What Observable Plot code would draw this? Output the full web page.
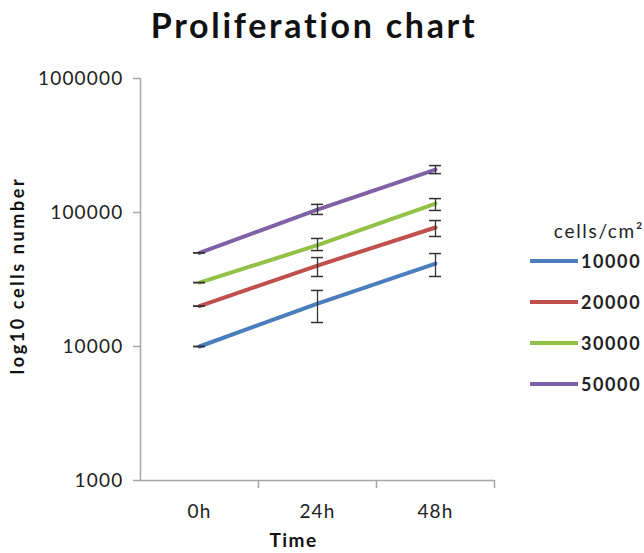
<!DOCTYPE html>
<html>
<head>
<meta charset="utf-8">
<script src="https://cdn.jsdelivr.net/npm/d3@7"></script>
<script src="https://cdn.jsdelivr.net/npm/@observablehq/plot@0.6"></script>
<style>
  html, body { margin: 0; padding: 0; background: #fff; }
  #wrap { position: relative; width: 644px; height: 553px; overflow: hidden; font-family: Lato, "Open Sans", sans-serif; }
  #title { position: absolute; left: 0; top: 4px; width: 628px; text-align: center; font-size: 34px; font-weight: 700; color: #111; letter-spacing: 2.7px; }
  #chart { position: absolute; left: 0; top: 50px; }
  #legend { position: absolute; left: 520px; top: 215px; }
  #chart svg text { letter-spacing: 1.2px; }
</style>
</head>
<body>
<div id="wrap">
  <div id="title">Proliferation chart</div>
  <div id="chart"></div>
  <div id="legend"></div>
</div>
<script>
const times = ["0h", "24h", "48h"];
const series = ["10000", "20000", "30000", "50000"];
const colors = ["#4a7ebd", "#c0504d", "#93c047", "#7f62a6"];
const values = {
  "10000": [10000, 20900, 41600],
  "20000": [20000, 40200, 77300],
  "30000": [30000, 57000, 116600],
  "50000": [50000, 105000, 209000]
};
const errLow = {
  "10000": [10000, 15100, 33300],
  "20000": [20000, 33300, 66200],
  "30000": [30000, 52000, 103600],
  "50000": [50000, 96700, 195000]
};
const errHigh = {
  "10000": [10000, 26200, 49400],
  "20000": [20000, 46100, 87100],
  "30000": [30000, 64000, 127000],
  "50000": [50000, 115000, 224000]
};
const yTicks = [1000, 10000, 100000, 1000000];

const rows = [];
series.forEach(s => times.forEach((t, i) => rows.push({
  series: s, time: t, value: values[s][i], lo: errLow[s][i], hi: errHigh[s][i]
})));

const grey = "#a6a6a6";
const plot = Plot.plot({
  width: 644,
  height: 503,
  marginTop: 28,
  marginBottom: 73,
  marginLeft: 140,
  marginRight: 150,
  style: { fontFamily: "Lato, 'Open Sans', sans-serif", fontSize: "19px", color: "#222", background: "#fff" },
  x: { type: "band", domain: times, label: null, padding: 0 },
  y: { type: "log", domain: [1000, 1000000], ticks: yTicks, tickFormat: d => String(d), label: null },
  color: { domain: series, range: colors },
  marks: [
    Plot.gridY(yTicks, { stroke: grey, strokeOpacity: 1, strokeWidth: 1.5, x1: 133, x2: 494 }),
    Plot.ruleX([times[0]], { stroke: grey, strokeWidth: 1.5, dx: -59, y1: 1000, y2: 1000000 }),
    Plot.ruleY([1000], { stroke: grey, strokeWidth: 1.5 }),
    Plot.axisY({ ticks: yTicks, tickFormat: d => String(d), tickSize: 7, tickPadding: 10, stroke: grey, strokeWidth: 1.5, fontSize: 19, fill: "#222", label: null }),
    Plot.axisX({ tickSize: 0, tickPadding: 24, fontSize: 19, fill: "#222", label: null }),
    Plot.ruleX(times, { dx: 59, y1: 1000, y2: 870, stroke: grey, strokeWidth: 1.5 }),
    Plot.line(rows, { x: "time", y: "value", z: "series", stroke: "series", strokeWidth: 4 }),
    Plot.ruleX(rows, { x: "time", y1: "lo", y2: "hi", stroke: "#333", strokeWidth: 1.3 }),
    Plot.tickY(rows, { x: "time", y: "lo", stroke: "#333", strokeWidth: 1.5, inset: 53 }),
    Plot.tickY(rows, { x: "time", y: "hi", stroke: "#333", strokeWidth: 1.5, inset: 53 }),
    Plot.text(["log10 cells number"], { frameAnchor: "left", textAnchor: "middle", dx: -122, dy: -4, rotate: -90, fontWeight: 700, fontSize: 18, fill: "#111" }),
    Plot.text(["Time"], { frameAnchor: "bottom", dx: -24, dy: 66, fontWeight: 700, fontSize: 19, fill: "#111" })
  ]
});
document.getElementById("chart").appendChild(plot);
d3.select(plot).selectAll("text").filter(function () { return this.textContent === "log10 cells number"; })
  .style("letter-spacing", "2.6px");
d3.select(plot).selectAll("text").filter(function () { return this.textContent === "Time"; })
  .style("letter-spacing", "1.5px");

// legend
const lg = d3.select("#legend").append("svg").attr("width", 124).attr("height", 180)
  .style("font-family", "Lato, 'Open Sans', sans-serif");
lg.append("text").attr("x", 124).attr("y", 23).attr("text-anchor", "end")
  .attr("font-size", 19).attr("fill", "#222").style("letter-spacing", "1.7px").text("cells/cm²");
series.forEach((s, i) => {
  const y = 46 + i * 41;
  lg.append("line").attr("x1", 10).attr("x2", 58).attr("y1", y).attr("y2", y)
    .attr("stroke", colors[i]).attr("stroke-width", 4);
  lg.append("text").attr("x", 61).attr("y", y + 7).attr("font-size", 18).attr("font-weight", 700)
    .attr("fill", "#222").style("letter-spacing", "1.6px").text(s);
});
</script>
</body>
</html>
